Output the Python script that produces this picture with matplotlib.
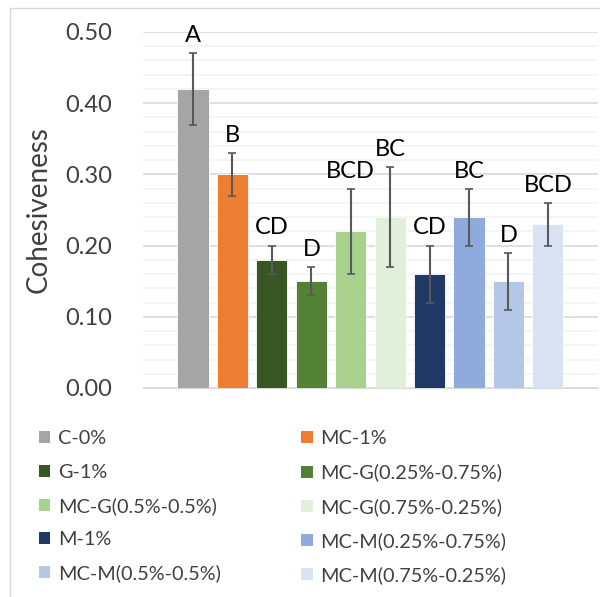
import matplotlib.pyplot as plt
from matplotlib.patches import Patch, Rectangle
from matplotlib.ticker import MultipleLocator

plt.rcParams['font.family'] = ['Lato', 'DejaVu Sans']

groups = ["C-0%", "MC-1%", "G-1%", "MC-G(0.25%-0.75%)", "MC-G(0.5%-0.5%)",
          "MC-G(0.75%-0.25%)", "M-1%", "MC-M(0.25%-0.75%)", "MC-M(0.5%-0.5%)",
          "MC-M(0.75%-0.25%)"]
cohesiveness = [0.42, 0.30, 0.18, 0.15, 0.22, 0.24, 0.16, 0.24, 0.15, 0.23]
errors = [0.05, 0.03, 0.02, 0.02, 0.06, 0.07, 0.04, 0.04, 0.04, 0.03]
letters = ["A", "B", "CD", "D", "BCD", "BC", "CD", "BC", "D", "BCD"]
colors = ["#A5A5A5", "#ED7D31", "#375623", "#548235", "#A9D18E",
          "#E2EFDA", "#203864", "#8FAADC", "#B4C7E7", "#DAE3F3"]

fig = plt.figure(figsize=(6, 5.97), dpi=100)
ax = fig.add_axes([0.2383, 0.3501, 0.7583, 0.5963])

x = range(len(groups))
ax.bar(x, cohesiveness, width=0.79, color=colors, edgecolor="white",
       linewidth=0.6, zorder=3)
ax.errorbar(x, cohesiveness, yerr=errors, fmt="none", ecolor="#595959",
            elinewidth=1.5, capsize=3, capthick=1.2, zorder=4)
for i, (v, e, l) in enumerate(zip(cohesiveness, errors, letters)):
    ax.annotate(l, (i, v + e), xytext=(0, 8), textcoords="offset points",
                ha="center", va="baseline", fontsize=17, color="black")

ax.set_ylim(0, 0.5)
ax.set_xlim(-1.27, 10.27)
ax.yaxis.set_major_locator(MultipleLocator(0.1))
ax.yaxis.set_minor_locator(MultipleLocator(0.02))
ax.yaxis.set_major_formatter(lambda v, p: f"{v:.2f}")
ax.grid(which="major", axis="y", color="#D9D9D9", linewidth=1.2, zorder=0)
ax.grid(which="minor", axis="y", color="#F2F2F2", linewidth=1.2, zorder=0)
ax.set_xticks([])
ax.tick_params(axis="y", which="both", length=0, pad=22, labelsize=17,
               labelcolor="#404040")
for s in ["top", "right", "left"]:
    ax.spines[s].set_visible(False)
ax.spines["bottom"].set_color("#D9D9D9")
ax.set_ylabel("Cohesiveness", fontsize=20, color="#404040")
ax.yaxis.set_label_coords(-0.2, 0.5)

handles = [Patch(facecolor=c, edgecolor="none", label=g)
           for c, g in zip(colors, groups)]
order = [0, 2, 4, 6, 8, 1, 3, 5, 7, 9]
fig.legend([handles[i] for i in order], [groups[i] for i in order],
           ncol=2, loc="upper left", bbox_to_anchor=(0.065, 0.279),
           frameon=False, fontsize=14.3, labelcolor="#404040",
           handlelength=0.56, handleheight=0.56, handletextpad=0.4,
           columnspacing=4.05, labelspacing=0.82, borderaxespad=0, borderpad=0)

fig.patches.append(Rectangle((10 / 600, -0.1), 1.2, 1.1 - 8 / 597,
                             transform=fig.transFigure, fill=False,
                             edgecolor="#D9D9D9", linewidth=1))

fig.savefig("out.png", dpi=100)
